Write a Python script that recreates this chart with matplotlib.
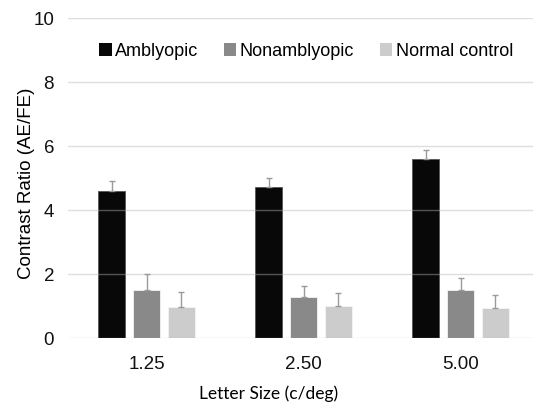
import numpy as np
import matplotlib
matplotlib.use("Agg")
import matplotlib.pyplot as plt
from matplotlib.patches import Patch

# values
letter_sizes = ["1.25", "2.50", "5.00"]
groups = ["Amblyopic", "Nonamblyopic", "Normal control"]
amblyopic = [4.61, 4.72, 5.59]
amblyopic_err = [0.30, 0.28, 0.31]
nonamblyopic = [1.50, 1.30, 1.50]
nonamblyopic_err = [0.50, 0.33, 0.38]
normal = [0.97, 1.02, 0.94]
normal_err = [0.47, 0.39, 0.40]
y_ticks = [0, 2, 4, 6, 8, 10]

COLORS = ["#080808", "#898989", "#cccccc"]
EDGES = ["#555555", "#f4f4f4", "#f4f4f4"]
SANS = ["Liberation Sans", "DejaVu Sans"]

plt.rcParams["font.family"] = SANS

fig = plt.figure(figsize=(5.33, 4.05), dpi=100)
ax = fig.add_axes([68 / 533, 0.1647, 1 - 68 / 533, 0.7901])

x = np.arange(len(letter_sizes))
width = 0.172
step = 0.22
series = [(amblyopic, amblyopic_err), (nonamblyopic, nonamblyopic_err),
          (normal, normal_err)]
for i, (vals, err) in enumerate(series):
    pos = x + (i - 1) * step
    ax.bar(pos, vals, width, color=COLORS[i], edgecolor=EDGES[i],
           linewidth=0.6, zorder=2, label=groups[i])
    ax.errorbar(pos, vals, yerr=[np.zeros(len(err)), err], fmt="none",
                ecolor="#9a9a9a", elinewidth=1, capsize=2.5, capthick=1,
                zorder=3)

# gridlines sit on top of the bars like in the source (grey on black)
for yv in y_ticks:
    ax.axhline(yv, color="#b4b4b4", alpha=0.44, linewidth=1, zorder=2.5)

ax.set_ylim(0, 10)
ax.set_xlim(-0.5, (533 - 68) / 157 - 0.5)
ax.set_yticks(y_ticks)
ax.set_xticks(x)
ax.set_xticklabels(letter_sizes)
ax.tick_params(length=0, labelsize=13.5, colors="#111111")
ax.tick_params(axis="y", pad=10)
ax.tick_params(axis="x", pad=13)
for s in ax.spines.values():
    s.set_visible(False)

ax.set_ylabel("Contrast Ratio (AE/FE)", fontsize=13.5)
ax.yaxis.set_label_coords(-0.07, 0.484)
ax.set_xlabel("Letter Size (c/deg)", fontsize=12.5, family=["Lato", "DejaVu Sans"])
ax.xaxis.set_label_coords(0.432, -0.147)

handles = [Patch(facecolor=c, edgecolor="none", label=g)
           for c, g in zip(COLORS, groups)]
ax.legend(handles=handles, loc="upper center", bbox_to_anchor=(0.512, 0.975),
          ncol=3, frameon=False, fontsize=13, handlelength=0.7,
          handleheight=0.7, handletextpad=0.2, columnspacing=1.4)

fig.savefig("out.png", dpi=100)
